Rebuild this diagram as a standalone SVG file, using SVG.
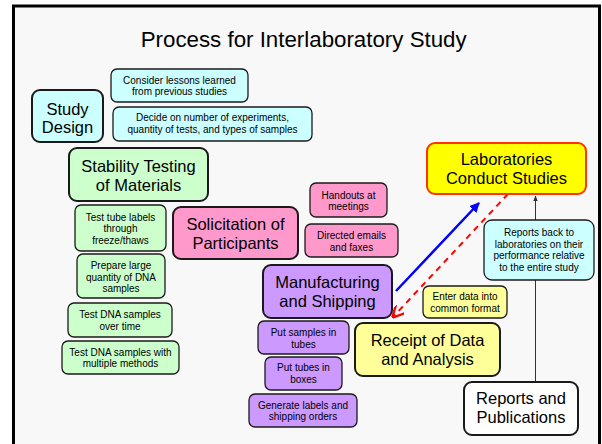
<svg xmlns="http://www.w3.org/2000/svg" width="602" height="444" viewBox="0 0 602 444">
  <defs>
    <style>
      text { font-family: "Liberation Sans", Arial, sans-serif; fill: #000; text-anchor: middle; }
      .big { font-size: 16.5px; }
      .small { font-size: 10px; }
      .title { font-size: 22.3px; }
      .bx { stroke: #1a1a1a; stroke-width: 2; }
      .sx { stroke: #1a1a1a; stroke-width: 1.3; }
      .cyan { fill: #ccffff; }
      .green { fill: #ccffcc; }
      .pink { fill: #ff99cc; }
      .purple { fill: #cc99ff; }
      .yellow { fill: #ffff99; }
    </style>
    <marker id="headBlue" viewBox="0 0 10 10" refX="9" refY="5" markerWidth="4" markerHeight="4" orient="auto" markerUnits="strokeWidth">
      <path d="M0,0 L10,5 L0,10 z" fill="#0000ff"/>
    </marker>
    <marker id="headRed" viewBox="0 0 10 10" refX="9" refY="5" markerWidth="6" markerHeight="6" orient="auto" markerUnits="strokeWidth">
      <path d="M0,0 L10,5 L0,10" fill="none" stroke="#ff0000" stroke-width="2"/>
    </marker>
    <marker id="headGray" viewBox="0 0 10 10" refX="9" refY="5" markerWidth="6" markerHeight="6" orient="auto" markerUnits="strokeWidth">
      <path d="M0,1 L10,5 L0,9 z" fill="#333"/>
    </marker>
  </defs>

  <!-- page -->
  <rect x="0" y="0" width="602" height="444" fill="#ffffff"/>
  <rect x="13.5" y="6" width="586" height="450" fill="#f8f8f8" stroke="#000" stroke-width="3"/>

  <text class="title" x="303.7" y="46.5">Process for Interlaboratory Study</text>

  <!-- connectors -->
  <g id="connectors">
    <line x1="535.5" y1="382" x2="535.5" y2="196" stroke="#333" stroke-width="1" marker-end="url(#headGray)"/>
    <line x1="396" y1="291" x2="479" y2="203" stroke="#0000ff" stroke-width="2.5" marker-end="url(#headBlue)"/>
    <line x1="508" y1="194" x2="393" y2="317" stroke="#ff0000" stroke-width="2" stroke-dasharray="6,5" marker-end="url(#headRed)"/>
  </g>

  <!-- study design -->
  <g id="study-design">
    <rect class="bx cyan" x="32" y="90" width="71" height="52" rx="8"/>
    <text class="big" x="67.5" y="115">Study</text>
    <text class="big" x="67.5" y="133">Design</text>
  </g>
  <g id="lessons">
    <rect class="sx cyan" x="111" y="69" width="137" height="33" rx="6"/>
    <text class="small" x="179.5" y="83.5">Consider lessons learned</text>
    <text class="small" x="179.5" y="95">from previous studies</text>
  </g>
  <g id="decide">
    <rect class="sx cyan" x="113" y="107" width="199" height="34" rx="6"/>
    <text class="small" x="212.5" y="120.5">Decide on number of experiments,</text>
    <text class="small" x="212.5" y="133">quantity of tests, and types of samples</text>
  </g>

  <!-- stability testing -->
  <g id="stability">
    <rect class="bx green" x="69" y="148" width="139" height="53" rx="8"/>
    <text class="big" x="138.5" y="171.5">Stability Testing</text>
    <text class="big" x="138.5" y="190.5">of Materials</text>
  </g>
  <g id="tube-labels">
    <rect class="sx green" x="75" y="205" width="91" height="46" rx="6"/>
    <text class="small" x="120.5" y="221">Test tube labels</text>
    <text class="small" x="120.5" y="232.3">through</text>
    <text class="small" x="120.5" y="243.7">freeze/thaws</text>
  </g>
  <g id="prepare">
    <rect class="sx green" x="77" y="254" width="88" height="44" rx="6"/>
    <text class="small" x="121" y="269">Prepare large</text>
    <text class="small" x="121" y="280.7">quantity of DNA</text>
    <text class="small" x="121" y="292.3">samples</text>
  </g>
  <g id="over-time">
    <rect class="sx green" x="68" y="303" width="104" height="34" rx="6"/>
    <text class="small" x="120" y="318.3">Test DNA samples</text>
    <text class="small" x="120" y="329.5">over time</text>
  </g>
  <g id="methods">
    <rect class="sx green" x="62" y="341" width="117" height="33" rx="6"/>
    <text class="small" x="120.5" y="356">Test DNA samples with</text>
    <text class="small" x="120.5" y="367.3">multiple methods</text>
  </g>

  <!-- solicitation -->
  <g id="solicitation">
    <rect class="bx pink" x="173" y="207" width="125" height="52" rx="8"/>
    <text class="big" x="235.5" y="230">Solicitation of</text>
    <text class="big" x="235.5" y="249">Participants</text>
  </g>
  <g id="handouts">
    <rect class="sx pink" x="310" y="183" width="77" height="34" rx="6"/>
    <text class="small" x="348.5" y="199">Handouts at</text>
    <text class="small" x="348.5" y="210.3">meetings</text>
  </g>
  <g id="emails">
    <rect class="sx pink" x="305" y="224" width="93" height="33" rx="6"/>
    <text class="small" x="351.5" y="239.3">Directed emails</text>
    <text class="small" x="351.5" y="250.5">and faxes</text>
  </g>

  <!-- manufacturing -->
  <g id="manufacturing">
    <rect class="bx purple" x="263" y="265" width="129" height="53" rx="8"/>
    <text class="big" x="327.5" y="288.3">Manufacturing</text>
    <text class="big" x="327.5" y="307.3">and Shipping</text>
  </g>
  <g id="put-samples">
    <rect class="sx purple" x="258" y="321" width="91" height="33" rx="6"/>
    <text class="small" x="303.5" y="336">Put samples in</text>
    <text class="small" x="303.5" y="347.5">tubes</text>
  </g>
  <g id="put-tubes">
    <rect class="sx purple" x="265" y="357" width="77" height="33" rx="6"/>
    <text class="small" x="303.5" y="371">Put tubes in</text>
    <text class="small" x="303.5" y="382.7">boxes</text>
  </g>
  <g id="generate">
    <rect class="sx purple" x="249" y="394" width="108" height="33" rx="6"/>
    <text class="small" x="303" y="409">Generate labels and</text>
    <text class="small" x="303" y="420">shipping orders</text>
  </g>

  <!-- laboratories -->
  <g id="laboratories">
    <rect x="427" y="143" width="159" height="51" rx="8" fill="#ffff00" stroke="#ff3300" stroke-width="2"/>
    <text class="big" x="506.5" y="165">Laboratories</text>
    <text class="big" x="506.5" y="184.3">Conduct Studies</text>
  </g>
  <g id="reports-back">
    <rect class="sx cyan" x="484" y="220" width="110" height="60" rx="8"/>
    <text class="small" x="539" y="236">Reports back to</text>
    <text class="small" x="539" y="247.5">laboratories on their</text>
    <text class="small" x="539" y="259.3">performance relative</text>
    <text class="small" x="539" y="271">to the entire study</text>
  </g>

  <!-- receipt of data -->
  <g id="enter-data">
    <rect class="sx yellow" x="423" y="286" width="84" height="32" rx="6"/>
    <text class="small" x="465" y="299.5">Enter data into</text>
    <text class="small" x="465" y="311.7">common format</text>
  </g>
  <g id="receipt">
    <rect class="bx yellow" x="355" y="323" width="145" height="53" rx="8"/>
    <text class="big" x="427.5" y="346">Receipt of Data</text>
    <text class="big" x="427.5" y="365">and Analysis</text>
  </g>

  <!-- reports and publications -->
  <g id="publications">
    <rect class="bx" x="464" y="382" width="114" height="53" rx="8" fill="#ffffff"/>
    <text class="big" x="521" y="404">Reports and</text>
    <text class="big" x="521" y="422.7">Publications</text>
  </g>
</svg>
